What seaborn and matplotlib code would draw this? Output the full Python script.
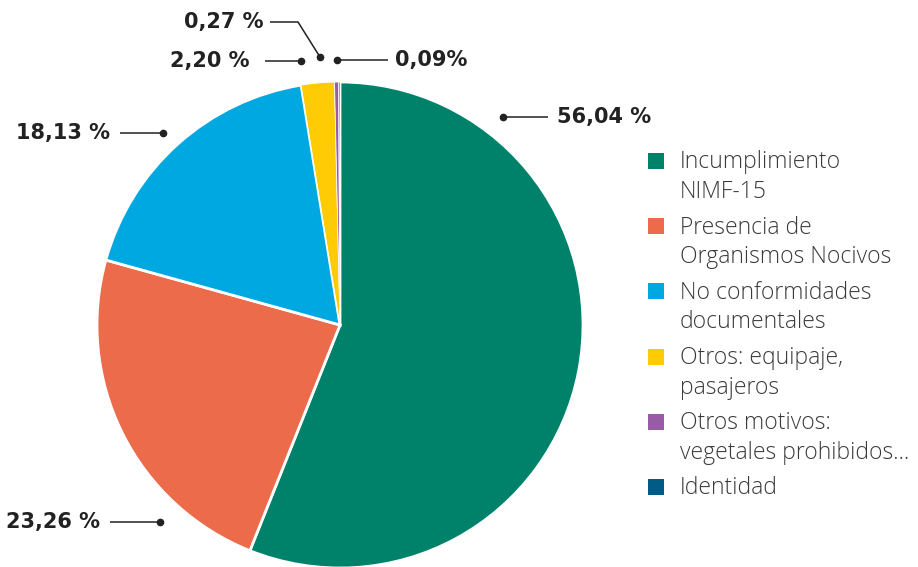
import matplotlib
matplotlib.use("Agg")
import matplotlib.pyplot as plt
from matplotlib.patches import Rectangle
import seaborn as sns

# data
categories = ["Incumplimiento\nNIMF-15",
              "Presencia de\nOrganismos Nocivos",
              "No conformidades\ndocumentales",
              "Otros: equipaje,\npasajeros",
              "Otros motivos:\nvegetales prohibidos...",
              "Identidad"]
values = [56.04, 23.26, 18.13, 2.20, 0.27, 0.09]
value_labels = ["56,04 %", "23,26 %", "18,13 %", "2,20 %", "0,27 %", "0,09%"]
colors = ["#00826A", "#EB6B4B", "#00A8E2", "#FFCB05", "#9A5BA6", "#005B85"]

sns.set_theme(style="white")
plt.rcParams["font.family"] = ["Open Sans", "DejaVu Sans"]

W, H = 918, 567
fig = plt.figure(figsize=(W / 100, H / 100), dpi=100)
ax = fig.add_axes([0, 0, 1, 1])

# pixel-like coordinates, y grows downwards -> clockwise pie from the top
wedges, _ = ax.pie(values, colors=colors, startangle=-90, counterclock=True,
                   center=(340, 325), radius=243,
                   wedgeprops=dict(edgecolor="white", linewidth=2))
# keep the tiny slices visible above the white separators
for w in wedges[3:]:
    w.set_linewidth(0.6)
    w.set_zorder(3)

ax.set_xlim(0, W)
ax.set_ylim(H, 0)
ax.set_aspect("equal")
ax.axis("off")

# leader lines: (text x, text y, ha, path of the line, ending in the dot)
ink = "#222222"
leaders = [
    (557, 117, "left", [(548, 117), (503, 117)]),
    (100, 522, "right", [(110, 522), (160, 522)]),
    (110, 133, "right", [(120, 133), (163, 133)]),
    (250, 61, "right", [(265, 61), (301, 61)]),
    (263, 22, "right", [(270, 22), (298, 22), (320, 57)]),
    (395, 60, "left", [(388, 60), (337, 60)]),
]
for lab, (tx, ty, ha, path) in zip(value_labels, leaders):
    xs = [p[0] for p in path]
    ys = [p[1] for p in path]
    ax.plot(xs, ys, color=ink, lw=1.1, solid_capstyle="butt")
    ax.plot(xs[-1], ys[-1], "o", color=ink, ms=4.5)
    ax.text(tx, ty, lab, ha=ha, va="center", fontsize=15, fontweight="bold",
            color=ink, family="DejaVu Sans")

# legend: square aligned with the first line of each label
for i, (lab, col) in enumerate(zip(categories, colors)):
    yc = 161 + i * 65.2
    ax.add_patch(Rectangle((648, yc - 8), 16, 16, facecolor=col,
                           edgecolor="none"))
    ax.text(680, yc - 10.5, lab, ha="left", va="top", fontsize=16.5,
            fontweight="light", color="#3a3a3a", linespacing=1.3)

fig.savefig("out.png", dpi=100)
